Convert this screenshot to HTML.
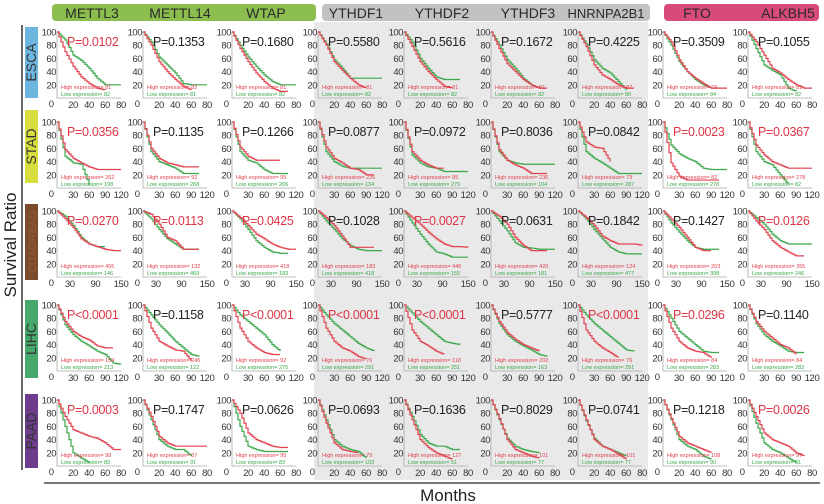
<!DOCTYPE html>
<html><head><meta charset="utf-8"><style>
html,body{margin:0;padding:0;background:#fff;}
svg{display:block;font-family:"Liberation Sans",sans-serif;}
</style></head><body>
<svg id="fig" width="824" height="504" viewBox="0 0 824 504">
<rect x="314" y="22" width="334" height="458" fill="#e9e9e9"/>
<rect x="52" y="4" width="264" height="17" rx="4" fill="#8bbd4f"/>
<rect x="322" y="4" width="328" height="17" rx="4" fill="#c2c2c2"/>
<rect x="664" y="4" width="155" height="17" rx="4" fill="#d8497c"/>
<g font-size="14" fill="#2a2a2a" text-anchor="middle">
<text x="92" y="18">METTL3</text>
<text x="180" y="18">METTL14</text>
<text x="266" y="18">WTAP</text>
<text x="356" y="18">YTHDF1</text>
<text x="442" y="18">YTHDF2</text>
<text x="528" y="18">YTHDF3</text>
<text x="606" y="18" font-size="13">HNRNPA2B1</text>
<text x="697" y="18">FTO</text>
<text x="788" y="18">ALKBH5</text>
</g>
<line x1="22" y1="25" x2="22" y2="470" stroke="#666" stroke-width="2"/>
<line x1="44" y1="483" x2="820" y2="483" stroke="#777" stroke-width="2"/>
<text x="0" y="0" transform="translate(16,245) rotate(-90)" text-anchor="middle" font-size="17" fill="#222">Survival Ratio</text>
<text x="448" y="501" text-anchor="middle" font-size="17" fill="#222">Months</text>
<g id="rows"></g>
<g id="panels"></g>
</svg>
<script>
const cancers=["ESCA","STAD","COADREAD","LIHC","PAAD"];
const cancerColors=["#6db6df","#d6dd3c","#7a4b2d","#46a86b","#6e3c8c"];
const genes=["METTL3","METTL14","WTAP","YTHDF1","YTHDF2","YTHDF3","HNRNPA2B1","FTO","ALKBH5"];
const xMax=[80,120,150,120,80];
const xTicks=[[20,40,60,80],[30,60,90,120],[30,90,150],[30,60,90,120],[20,40,60,80]];
const yTicks=[100,80,60,40,20];
const pValues=[
["P=0.0102","P=0.1353","P=0.1680","P=0.5580","P=0.5616","P=0.1672","P=0.4225","P=0.3509","P=0.1055"],
["P=0.0356","P=0.1135","P=0.1266","P=0.0877","P=0.0972","P=0.8036","P=0.0842","P=0.0023","P=0.0367"],
["P=0.0270","P=0.0113","P=0.0425","P=0.1028","P=0.0027","P=0.0631","P=0.1842","P=0.1427","P=0.0126"],
["P<0.0001","P=0.1158","P<0.0001","P<0.0001","P<0.0001","P=0.5777","P<0.0001","P=0.0296","P=0.1140"],
["P=0.0003","P=0.1747","P=0.0626","P=0.0693","P=0.1636","P=0.8029","P=0.0741","P=0.1218","P=0.0026"]];
const pSignificant=[
[1,0,0,0,0,0,0,0,0],[1,0,0,0,0,0,0,1,1],[1,1,1,0,1,0,0,0,1],[1,0,1,1,1,0,1,1,0],[1,0,0,0,0,0,0,0,1]];
const highN=[[81,82,81,81,81,81,87,79,81],[262,92,95,226,85,236,73,82,278],[455,132,418,183,446,420,124,203,355],[154,245,92,76,118,202,76,84,84],[98,87,95,79,127,101,101,108,97]];
const lowN=[[82,81,82,82,82,82,80,84,82],[198,268,265,134,275,104,287,278,82],[146,469,183,418,155,181,477,398,246],[213,122,275,291,251,163,291,283,283],[80,91,83,103,51,77,77,90,81]];
// survival (%) at 9 equally spaced times from 0 to xMax; null = curve ended
const highSurv=[
[[100,70,48,32,22,15,12,null,null],[100,80,55,40,28,18,12,null,null],[100,75,55,38,25,15,10,10,null],[100,80,55,42,30,20,15,null,null],[100,78,55,40,28,18,15,null,null],[100,75,52,40,28,20,15,15,null],[100,78,50,35,28,20,15,15,null],[100,85,58,40,30,22,15,15,15],[100,85,65,45,38,28,20,15,15]],
[[100,58,45,38,32,28,28,28,28],[100,60,45,38,35,32,32,32,null],[100,62,48,42,42,42,42,null,null],[100,62,45,38,30,28,20,20,null],[100,55,42,35,30,30,null,null,null],[100,58,42,35,30,22,22,22,null],[100,70,62,60,40,null,null,null,null],[100,38,18,12,12,12,12,12,null],[100,65,50,40,35,30,30,30,30]],
[[100,88,75,58,50,46,42,40,40],[100,95,80,60,55,42,42,42,null],[100,90,78,65,58,50,45,42,42],[100,90,78,62,45,45,45,45,null],[100,90,80,68,58,50,46,46,45],[100,92,80,60,48,40,40,40,null],[100,90,78,62,55,50,50,50,48],[100,88,75,60,45,40,40,null,null],[100,85,72,55,45,38,32,32,null]],
[[100,75,60,52,47,38,35,35,null],[100,65,45,38,32,30,15,null,null],[100,65,45,35,28,25,25,null,null],[100,65,45,35,30,22,18,null,null],[100,62,45,38,30,25,null,null,null],[100,75,58,48,40,35,30,null,null],[100,62,45,35,28,20,null,null,null],[100,65,45,35,30,28,20,null,null],[100,75,60,50,40,35,25,null,null]],
[[100,75,55,50,45,42,35,25,25],[100,75,45,35,30,30,30,30,30],[100,80,50,40,35,30,28,28,null],[100,65,35,25,22,20,null,null,null],[100,70,40,28,20,15,10,null,null],[100,72,40,25,20,15,12,null,null],[100,70,40,30,25,18,10,null,null],[100,72,45,35,30,25,20,null,null],[100,75,50,40,35,30,20,15,null]]];
const lowSurv=[
[[100,88,65,57,45,30,20,20,20],[100,85,62,50,38,22,20,20,20],[100,80,62,48,35,25,20,20,20],[100,82,58,45,30,30,30,30,30],[100,85,60,45,32,28,28,28,null],[100,80,58,45,30,20,15,null,null],[100,82,58,45,38,25,12,null,null],[100,80,55,40,28,20,15,null,null],[100,75,50,42,35,15,10,null,null]],
[[100,48,38,36,5,null,null,null,null],[100,55,40,35,30,22,22,22,null],[100,55,42,38,28,22,22,22,null],[100,55,40,33,30,30,30,30,30],[100,50,38,32,30,25,25,25,25],[100,55,42,38,36,36,36,36,36],[100,55,45,38,30,22,22,22,22],[100,65,52,45,40,30,28,28,28],[100,55,40,35,20,5,null,null,null]],
[[100,92,78,60,50,46,46,null,null],[100,88,72,58,50,42,42,42,null],[100,88,72,55,45,38,36,36,null],[100,85,72,58,48,42,40,40,40],[100,82,65,50,38,35,30,30,30],[100,85,70,52,45,44,42,42,42],[100,88,72,58,45,38,35,35,35],[100,82,68,55,45,42,42,42,null],[100,90,80,65,55,50,50,50,50]],
[[100,70,55,45,38,30,25,12,10],[100,85,70,58,45,35,25,22,null],[100,85,75,65,55,40,30,null,null],[100,85,72,62,52,42,35,30,null],[100,88,75,65,55,45,42,40,null],[100,72,55,45,38,32,25,22,null],[100,85,72,62,52,42,32,30,null],[100,80,60,50,40,30,28,28,null],[100,72,55,45,38,30,28,28,null]],
[[100,60,20,12,5,null,null,null,null],[100,70,40,30,25,25,15,null,null],[100,60,30,25,22,22,22,22,null],[100,70,40,30,25,22,12,null,null],[100,75,48,35,30,30,25,25,null],[100,70,42,30,25,22,20,null,null],[100,68,42,30,25,20,15,null,null],[100,70,40,30,25,15,10,null,null],[100,65,35,25,20,12,5,null,null]]];

const NS="http://www.w3.org/2000/svg";
const colLeft=[57,143,232,318,404,491,578,663,748];
const rowTop=[32,122,211,305,400];
const rowBox=[[27,98],[110,183],[204,280],[300,378],[394,468]];
const W=64,H=66;
function mk(tag,attrs,parent){const e=document.createElementNS(NS,tag);for(const k in attrs)e.setAttribute(k,attrs[k]);parent.appendChild(e);return e;}
const rowsG=document.getElementById('rows');
const panelsG=document.getElementById('panels');
cancers.forEach((c,r)=>{
  const b=rowBox[r];
  const rect=mk('rect',{x:25,y:b[0],width:13,height:b[1]-b[0],fill:cancerColors[r]},rowsG);
  
  
  const cy=(b[0]+b[1])/2;
  const t=mk('text',{x:0,y:0,transform:`translate(36,${cy}) rotate(-90)`,'text-anchor':'middle','font-size':c.length>5?11:14,fill:r===2?'#9a5a35':'#333'},rowsG);
  t.textContent=c;
  
  
});
function xs(r,t){return t/xMax[r]*W;}
function ys(v){return H-v/100*H;}
function stepPath(r,arr){
  let d='',prev=null,px=0;
  for(let i=0;i<arr.length;i++){
    const v=arr[i]; if(v===null)break;
    const x=xs(r,i*xMax[r]/(arr.length-1));
    if(prev===null){d+=`M${x},${ys(v)}`;}
    else{
      const n=4;
      for(let k=1;k<=n;k++){
        const sx=px+(x-px)*k/n, sv=prev+(v-prev)*k/n;
        d+=`H${sx.toFixed(2)}V${ys(sv).toFixed(2)}`;
      }
    }
    prev=v;px=x;
  }
  return d;
}
cancers.forEach((c,r)=>{
  genes.forEach((g,ci)=>{
    const G=mk('g',{transform:`translate(${colLeft[ci]},${rowTop[r]})`},panelsG);
    
    
    mk('path',{d:`M0,0V${H}H${W}`,fill:'none',stroke:'#aaa','stroke-width':0.8},G);
    yTicks.forEach(v=>{
      const t=mk('text',{x:-1,y:ys(v)+3.5,'text-anchor':'end','font-size':9.5,'letter-spacing':'-0.5',fill:'#333'},G);
      t.textContent=v;
      
      
    });
    const z=mk('text',{x:-3,y:H+9,'text-anchor':'end','font-size':9.5,fill:'#333'},G);z.textContent='0';
    
    
    xTicks[r].forEach(v=>{
      const t=mk('text',{x:xs(r,v),y:H+10,'text-anchor':'middle','font-size':9.5,'letter-spacing':'-0.4',fill:'#333'},G);
      t.textContent=v;
      
      
    });
    const lo=mk('path',{d:stepPath(r,lowSurv[r][ci]),fill:'none',stroke:'#3aa74a','stroke-width':1.2},G);
    
    
    const hi=mk('path',{d:stepPath(r,highSurv[r][ci]),fill:'none',stroke:'#e0414f','stroke-width':1.2},G);
    
    
    const p=mk('text',{x:10,y:14,'font-size':12.5,'letter-spacing':'-0.3',fill:pSignificant[r][ci]?'#dc3446':'#222'},G);
    p.textContent=pValues[r][ci];
    
    
    const l1=mk('text',{x:4,y:H-9,'font-size':5.5,fill:'#e0414f'},G);
    l1.textContent='High expression= '+highN[r][ci];
    
    
    const l2=mk('text',{x:4,y:H-2,'font-size':5.5,fill:'#3aa74a'},G);
    l2.textContent='Low  expression= '+lowN[r][ci];
    
    
  });
});
</script>
</body></html>
